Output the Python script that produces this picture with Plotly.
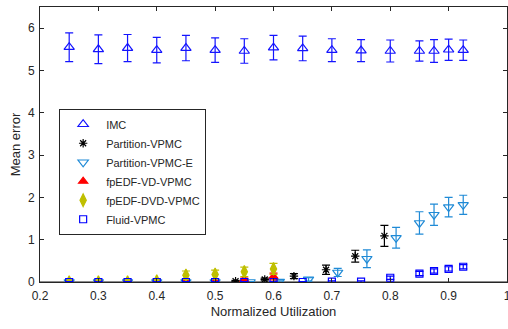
import plotly.graph_objects as go

# ---- data ----
imc_x = [0.25, 0.3, 0.35, 0.4, 0.45, 0.5, 0.55, 0.6, 0.65, 0.7, 0.75, 0.8, 0.85, 0.875, 0.9, 0.925]
imc_y = [5.55, 5.50, 5.53, 5.48, 5.53, 5.48, 5.46, 5.54, 5.52, 5.48, 5.47, 5.46, 5.46, 5.46, 5.49, 5.48]
imc_e = [0.34, 0.34, 0.32, 0.30, 0.30, 0.29, 0.29, 0.29, 0.29, 0.27, 0.26, 0.26, 0.24, 0.27, 0.25, 0.24]

part_x = [0.535, 0.585, 0.635, 0.69, 0.74, 0.79]
part_y = [0.02, 0.06, 0.14, 0.29, 0.61, 1.09]
part_e = [0.02, 0.03, 0.06, 0.11, 0.14, 0.25]

parte_x = [0.25, 0.3, 0.35, 0.4, 0.45, 0.5, 0.56, 0.61, 0.66, 0.71, 0.76, 0.81, 0.85, 0.875, 0.9, 0.925]
parte_y = [0.0, 0.0, 0.0, 0.0, 0.0, 0.0, 0.0, 0.01, 0.06, 0.225, 0.55, 1.045, 1.395, 1.59, 1.77, 1.825]
parte_e = [0.01, 0.01, 0.01, 0.01, 0.01, 0.01, 0.01, 0.02, 0.04, 0.095, 0.21, 0.245, 0.265, 0.25, 0.23, 0.225]

vd_x = [0.25, 0.3, 0.35, 0.4, 0.45, 0.5, 0.55, 0.6]
vd_y = [0.0, 0.0, 0.0, 0.0, 0.0, 0.0, 0.05, 0.13]
vd_e = [0.01, 0.01, 0.01, 0.01, 0.02, 0.02, 0.04, 0.08]

dvd_x = [0.25, 0.3, 0.35, 0.4, 0.45, 0.5, 0.55, 0.6]
dvd_y = [0.0, 0.0, 0.0, 0.02, 0.16, 0.18, 0.24, 0.31]
dvd_e = [0.03, 0.03, 0.03, 0.05, 0.10, 0.10, 0.11, 0.13]

fluid_x = [0.25, 0.3, 0.35, 0.4, 0.45, 0.5, 0.55, 0.6, 0.65, 0.7, 0.75, 0.8, 0.85, 0.875, 0.9, 0.925]
fluid_y = [0.0, 0.0, 0.0, 0.0, 0.0, 0.0, 0.0, 0.0, 0.0, 0.01, 0.01, 0.10, 0.20, 0.26, 0.31, 0.36]
fluid_e = [0.01, 0.01, 0.01, 0.01, 0.01, 0.01, 0.01, 0.01, 0.01, 0.02, 0.02, 0.04, 0.05, 0.05, 0.05, 0.05]

x_ticks = [0.2, 0.3, 0.4, 0.5, 0.6, 0.7, 0.8, 0.9, 1]
y_ticks = [0, 1, 2, 3, 4, 5, 6]

series = [
    ("IMC", imc_x, imc_y, imc_e, "#1414ff", "triangle-up-open", 9),
    ("Partition-VPMC", part_x, part_y, part_e, "#000000", "asterisk-open", 7),
    ("Partition-VPMC-E", parte_x, parte_y, parte_e, "#1f8ad6", "triangle-down-open", 9),
    ("fpEDF-VD-VPMC", vd_x, vd_y, vd_e, "#ff0000", "triangle-up", 8),
    ("fpEDF-DVD-VPMC", dvd_x, dvd_y, dvd_e, "#bfbf00", "diamond-tall", 9),
    ("Fluid-VPMC", fluid_x, fluid_y, fluid_e, "#0000ff", "square-open", 7),
]

fig = go.Figure()
for name, xs, ys, es, col, sym, sz in series:
    fig.add_trace(go.Scatter(
        x=xs, y=ys, name=name, mode="markers",
        marker=dict(symbol=sym, size=sz, color=col, line=dict(color=col, width=1.2)),
        error_y=dict(type="data", array=es, visible=True, color=col, thickness=1.2, width=4),
    ))

fig.add_shape(type="line", xref="paper", yref="y", x0=0, x1=1, y0=0, y1=0,
              line=dict(color="#8c8c8c", width=2), layer="below")

axis_common = dict(showline=True, linecolor="#262626", linewidth=1, mirror="ticks",
                   ticks="inside", ticklen=4, tickcolor="#262626", showgrid=False,
                   zeroline=False, tickfont=dict(size=12, color="#262626"), automargin=False)

fig.update_layout(
    width=508, height=329,
    margin=dict(l=40, r=1, t=7, b=47),
    paper_bgcolor="white", plot_bgcolor="white",
    font=dict(family="Liberation Sans, Arial, sans-serif", color="#262626"),
    xaxis=dict(range=[0.2, 1], tickvals=x_ticks, ticktext=[str(v) for v in x_ticks],
               ticklabelstandoff=3, ticklabeloverflow="allow",
               title=dict(text="Normalized Utilization", font=dict(size=13), standoff=4),
               **axis_common),
    yaxis=dict(range=[0, 6.5], tickvals=y_ticks, ticklabelstandoff=2,
               title=dict(text="Mean error", font=dict(size=13), standoff=4),
               **axis_common),
    legend=dict(x=0.041, y=0.63, xanchor="left", yanchor="top",
                bgcolor="white", bordercolor="#262626", borderwidth=1,
                font=dict(size=11, color="#262626"), tracegroupgap=0, itemwidth=36),
    showlegend=True,
)

fig.write_html("out.html")
